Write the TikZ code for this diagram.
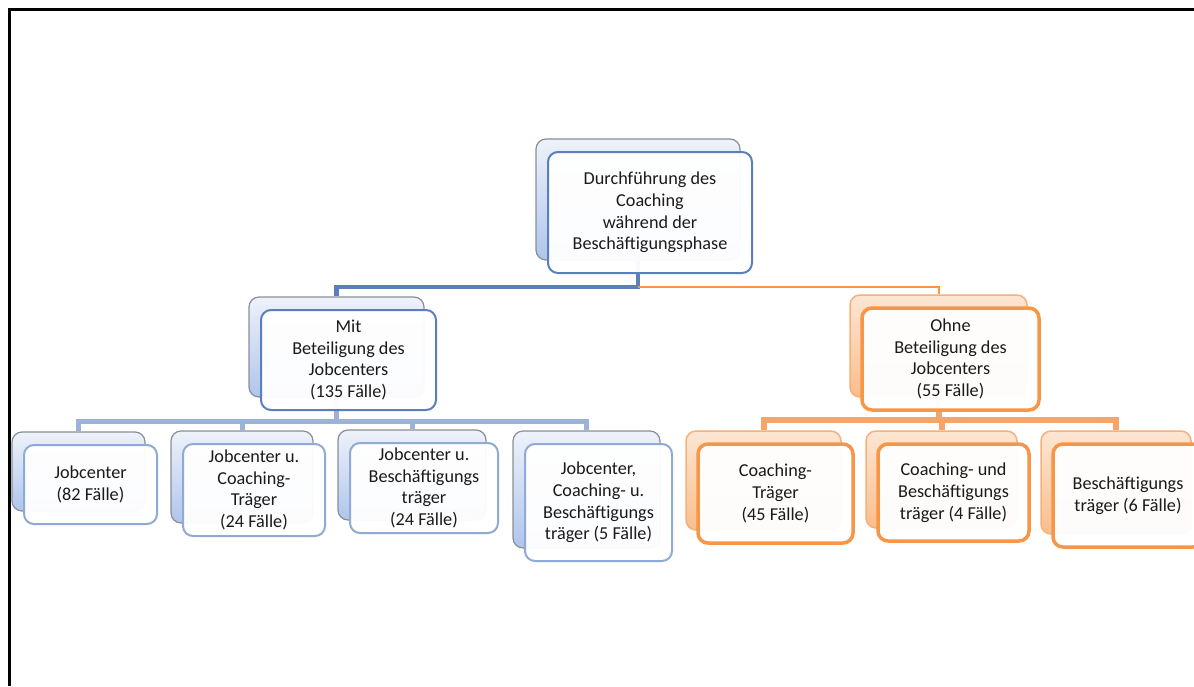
\documentclass[tikz,border=0pt]{standalone}
\usepackage{fontspec}
\setmainfont{Carlito}
\usetikzlibrary{backgrounds}
\definecolor{bmain}{HTML}{5A7FBC}
\definecolor{bchild}{HTML}{8FAAD5}
\definecolor{bline}{HTML}{9CB3D8}
\definecolor{bbackL}{HTML}{EEF2FA}
\definecolor{bbackD}{HTML}{AFC5EC}
\definecolor{bbackE}{HTML}{8A8E96}
\definecolor{omain}{HTML}{F79646}
\definecolor{oline}{HTML}{F5A46A}
\definecolor{obackL}{HTML}{FDE6D3}
\definecolor{obackD}{HTML}{F9BE8C}
\definecolor{obackE}{HTML}{F8B07A}
\definecolor{txt}{HTML}{1A1A1A}
\newcommand\boxpair[8]{%
  \node[#6, minimum width=#4, minimum height=#5] (#1b) at ({#2-12},{#3-13}) {};
  \node[#7, minimum width=#4, minimum height=#5] (#1) at (#2,#3) {#8};}
\begin{document}
\begin{tikzpicture}[x=1pt,y=-1pt,
  frontbox/.style={rounded corners=10pt, fill=white, fill opacity=0.96, text opacity=1,
    align=center, inner sep=2pt, text=txt, font=\fontsize{18.2}{21.8}\selectfont},
  fblue/.style={frontbox, draw=bmain, line width=2pt},
  fbluec/.style={frontbox, draw=bchild, line width=2pt},
  forange/.style={frontbox, draw=omain, line width=3.5pt},
  bkblue/.style={rounded corners=10pt, draw=bbackE, line width=1.2pt, top color=bbackL, bottom color=bbackD},
  bkorange/.style={rounded corners=10pt, draw=obackE, line width=1.5pt, top color=obackL, bottom color=obackD},
  lblue/.style={draw=bmain, line width=4.5pt},
  lbluec/.style={draw=bline, line width=5pt},
  lorange/.style={draw=omain, line width=2pt},
  lorangec/.style={draw=oline, line width=6pt}]
\clip (0,0) rectangle (1194,686);
% boxes
\boxpair{main}{650}{212.5}{204pt}{121pt}{bkblue}{fblue}{Durchführung des\\Coaching\\während der\\Beschäftigungsphase}
\boxpair{mit}{348.5}{360}{175pt}{100pt}{bkblue}{fblue}{Mit\\Beteiligung des\\Jobcenters\\(135 Fälle)}
\boxpair{ohne}{950.5}{359}{177pt}{102pt}{bkorange}{forange}{Ohne\\Beteiligung des\\Jobcenters\\(55 Fälle)}
\boxpair{ca}{90.5}{484.5}{133pt}{79pt}{bkblue}{fbluec}{Jobcenter\\(82 Fälle)}
\boxpair{cb}{254}{490}{142pt}{92pt}{bkblue}{fbluec}{Jobcenter u.\\Coaching-\\Träger\\(24 Fälle)}
\boxpair{cc}{424}{488}{148pt}{90pt}{bkblue}{fbluec}{Jobcenter u.\\Beschäftigungs\\träger\\(24 Fälle)}
\boxpair{cd}{598.5}{502.5}{147pt}{117pt}{bkblue}{fbluec}{Jobcenter,\\Coaching- u.\\Beschäftigungs\\träger (5 Fälle)}
\boxpair{oa}{775.5}{493.5}{155pt}{99pt}{bkorange}{forange}{Coaching-\\Träger\\(45 Fälle)}
\boxpair{ob}{953.5}{492.5}{151pt}{97pt}{bkorange}{forange}{Coaching- und\\Beschäftigungs\\träger (4 Fälle)}
\boxpair{oc}{1128}{495.5}{150pt}{103pt}{bkorange}{forange}{Beschäftigungs\\träger (6 Fälle)}
% background, frame and connectors
\begin{pgfonlayer}{background}
\fill[white] (0,0) rectangle (1194,686);
\draw[black, line width=3pt] (7.5,9) -- (1194,9);
\draw[black, line width=3pt] (9,7.5) -- (9,686);
\coordinate (j1) at (mainb.south |- 0,287);
\coordinate (j2) at (mitb.south |- 0,421);
\coordinate (j3) at (ohneb.south |- 0,420);
\draw[lblue] (mainb.south) -- (j1) -| (mitb.north);
\draw[lorange] (j1) -| (ohneb.north);
\draw[lbluec] (mitb.south) -- (j2) -| (cab.north);
\draw[lbluec] (j2) -| (cbb.north);
\draw[lbluec] (j2) -| (ccb.north);
\draw[lbluec] (j2) -| (cdb.north);
\draw[lorangec] (ohneb.south) -- (j3) -| (oab.north);
\draw[lorangec] (j3) -| (obb.north);
\draw[lorangec] (j3) -| (ocb.north);
\end{pgfonlayer}
\end{tikzpicture}
\end{document}
